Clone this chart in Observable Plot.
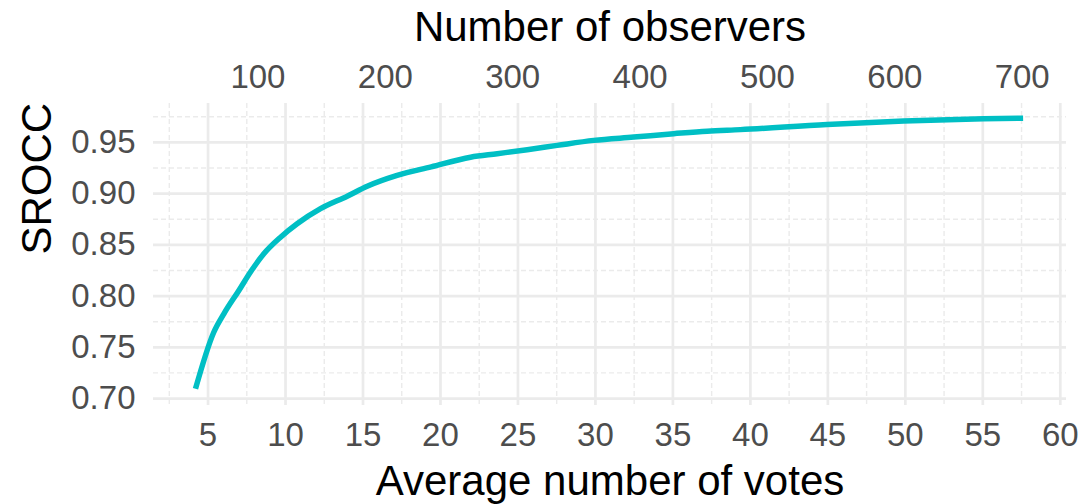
<!DOCTYPE html>
<html><head><meta charset="utf-8">
<script src="https://cdn.jsdelivr.net/npm/d3@7"></script>
<script src="https://cdn.jsdelivr.net/npm/@observablehq/plot@0.6"></script>
<style>body{margin:0;background:#fff;}</style>
</head><body><div id="chart"></div>
<script>
const votes = [4.19, 5.37, 6.02, 6.99, 7.74, 8.6, 9.68, 10.75, 12.26, 13.98, 15.27, 17.2, 19.4, 21.94, 23.66, 25.6, 27.53, 29.89, 32.47, 35.05, 37.21, 39.35, 44.95, 49.9, 55.05, 57.6];
const srocc = [0.7095, 0.7647, 0.7827, 0.8055, 0.8235, 0.8413, 0.8575, 0.8706, 0.8853, 0.8975, 0.9072, 0.9178, 0.9262, 0.9356, 0.939, 0.9429, 0.9471, 0.952, 0.9552, 0.9585, 0.961, 0.9625, 0.9676, 0.9708, 0.9731, 0.9737];
const xTicks = [5, 10, 15, 20, 25, 30, 35, 40, 45, 50, 55, 60];
const xMinor = [2.5, 7.5, 12.5, 17.5, 22.5, 27.5, 32.5, 37.5, 42.5, 47.5, 52.5, 57.5];
const yTicks = [0.70, 0.75, 0.80, 0.85, 0.90, 0.95];
const yMinor = [0.725, 0.775, 0.825, 0.875, 0.925, 0.975];
const observerTicks = [100, 200, 300, 400, 500, 600, 700];
const votesPerObserver = 0.0822;
const xTitle = "Average number of votes";
const yTitle = "SROCC";
const topTitle = "Number of observers";

const data = votes.map((v, i) => ({votes: v, srocc: srocc[i]}));
const gridColor = "#EBEBEB";
const tickColor = "#4D4D4D";

const chart = Plot.plot({
  width: 1080, height: 504,
  marginLeft: 153, marginRight: 14, marginTop: 103, marginBottom: 99,
  style: {fontFamily: "'Liberation Sans', Arial, sans-serif", background: "#fff", overflow: "visible"},
  x: {domain: [1.48, 60.4]},
  y: {domain: [0.6932, 0.988]},
  marks: [
    Plot.gridX(xMinor, {stroke: gridColor, strokeOpacity: 1, strokeWidth: 1.4, strokeDasharray: "5,3"}),
    Plot.gridY(yMinor, {stroke: gridColor, strokeOpacity: 1, strokeWidth: 1.4, strokeDasharray: "5,3"}),
    Plot.gridX(xTicks, {stroke: gridColor, strokeOpacity: 1, strokeWidth: 2.7}),
    Plot.gridY(yTicks, {stroke: gridColor, strokeOpacity: 1, strokeWidth: 2.7}),
    Plot.axisX(xTicks, {anchor: "bottom", tickSize: 0, tickPadding: 17, fontSize: 33, fill: tickColor, label: null}),
    Plot.axisX(observerTicks.map(o => o * votesPerObserver), {anchor: "top", tickSize: 0, tickPadding: 16, fontSize: 33, fill: tickColor, label: null, tickFormat: d => String(Math.round(d / votesPerObserver))}),
    Plot.axisY(yTicks, {anchor: "left", tickSize: 0, tickPadding: 18, fontSize: 33, fill: tickColor, label: null, tickFormat: d => d.toFixed(2)}),
    Plot.line(data, {x: "votes", y: "srocc", stroke: "#00BFC4", strokeWidth: 5.5, strokeLinecap: "butt", strokeLinejoin: "round", curve: "monotone-x"}),
    Plot.text([topTitle], {text: d => d, frameAnchor: "top", dy: -75.5, fontSize: 42, fill: "black", lineAnchor: "middle"}),
    Plot.text([xTitle], {text: d => d, frameAnchor: "bottom", dy: 76, fontSize: 42, fill: "black", lineAnchor: "middle"}),
    Plot.text([yTitle], {text: d => d, frameAnchor: "left", dx: -116, rotate: -90, fontSize: 42, fill: "black", lineAnchor: "middle"})
  ]
});
document.getElementById("chart").appendChild(chart);
</script>
</body></html>
